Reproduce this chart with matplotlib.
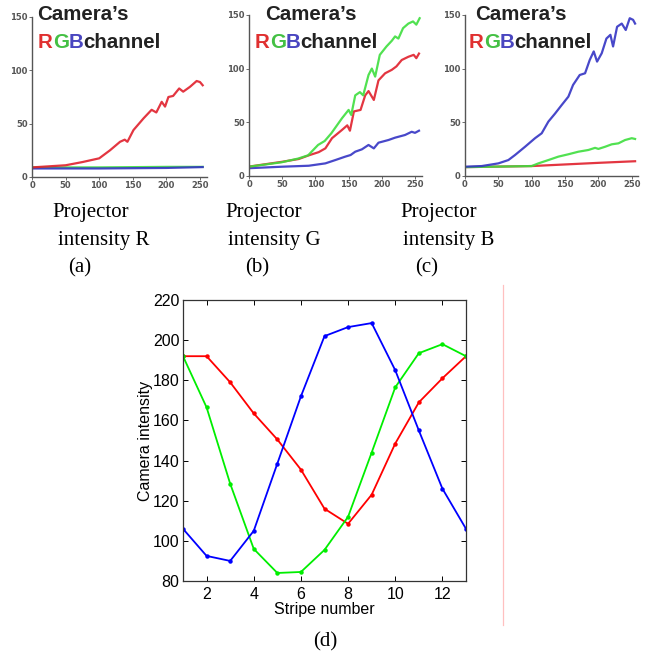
import matplotlib
matplotlib.use("Agg")
import matplotlib.pyplot as plt
from matplotlib.lines import Line2D
from matplotlib.text import Annotation

W, H = 659, 657

# ---------------- Data: top panels (projector intensity vs camera channel) ----------------
# Panel (a): projector R
a_red_x = [0, 50, 75, 100, 116, 131, 138, 142, 151, 166, 178, 185, 193, 198, 203, 210, 219, 225, 235, 245, 250, 254]
a_red_y = [9, 11, 14, 17.5, 25, 33, 35, 33, 44, 55, 63, 60.5, 70.5, 66, 75, 76, 83, 80, 84.5, 90, 89, 86]
a_green_x = [0, 100, 200, 254]
a_green_y = [9, 9, 9.5, 9.5]
a_blue_x = [0, 100, 200, 254]
a_blue_y = [8, 8, 8.5, 9.3]

# Panel (b): projector G
b_green_x = [0, 49, 74, 89, 104, 114, 124, 140, 150, 154, 160, 167, 172, 180, 185, 190, 197, 207, 215, 220, 225, 232, 240, 247, 252, 257]
b_green_y = [8.4, 12.5, 16, 19, 28.7, 32.4, 39.6, 53.6, 61.4, 56.7, 75, 78, 75, 94, 100, 92.5, 112.8, 120.6, 125.9, 130, 128, 137.7, 142, 144, 141, 147]
b_red_x = [0, 50, 75, 90, 105, 115, 125, 140, 148, 152, 158, 168, 175, 180, 188, 195, 205, 215, 222, 230, 240, 248, 252, 256]
b_red_y = [8.5, 13, 15.6, 19, 22, 25.5, 35, 42.7, 47, 42, 60, 61.4, 75, 79, 70.7, 89, 95.6, 98.8, 102, 108, 111, 112.8, 109.7, 114]
b_blue_x = [0, 50, 90, 115, 130, 145, 153, 160, 170, 180, 188, 195, 210, 220, 235, 245, 250, 256]
b_blue_y = [7, 8.4, 9.3, 11.5, 14.6, 17.8, 19.3, 22.4, 24.6, 28.7, 25.5, 30.8, 33.3, 35.5, 38, 41, 40, 42]

# Panel (c): projector B
c_blue_x = [0, 25, 50, 65, 75, 90, 105, 115, 125, 135, 145, 155, 162, 172, 180, 187, 193, 198, 205, 212, 218, 222, 228, 235, 241, 247, 252, 255]
c_blue_y = [8.4, 9, 11.5, 14.6, 19.3, 27, 35, 39.6, 50.5, 58, 66, 73.8, 84.7, 94, 95.6, 108, 116, 106.5, 114.3, 128, 131.5, 120.6, 139, 142, 136, 147, 145.5, 142]
c_green_x = [0, 50, 100, 110, 125, 140, 155, 170, 185, 195, 200, 210, 220, 230, 240, 250, 255]
c_green_y = [8, 8.5, 9, 11.5, 14.6, 17.8, 20, 22.4, 24, 26, 25, 27, 29.3, 30.2, 33.3, 35, 34.3]
c_red_x = [0, 100, 150, 200, 255]
c_red_y = [8, 9, 10.5, 12, 13.5]

top_xticks = [0, 50, 100, 150, 200, 250]
top_yticks = [0, 50, 100, 150]
captions = [("Projector", "intensity R", "(a)"),
            ("Projector", "intensity G", "(b)"),
            ("Projector", "intensity B", "(c)")]

# ---------------- Data: bottom panel (d) ----------------
stripe = [1, 2, 3, 4, 5, 6, 7, 8, 9, 10, 11, 12, 13]
d_red = [192, 192, 179, 163.5, 150.5, 135.5, 116, 108.5, 123, 148.5, 169, 181, 192]
d_green = [192, 166.5, 128.5, 96, 84, 84.5, 95.5, 112, 144, 176.5, 193.5, 198, 192]
d_blue = [106, 92.5, 90, 105, 138.5, 172, 202, 206.5, 208.5, 185, 155, 126, 106]
d_xticks = [2, 4, 6, 8, 10, 12]
d_yticks = [80, 100, 120, 140, 160, 180, 200, 220]


def px(x, y):
    return x / W, 1 - y / H


def rect(l, t, r, b):
    return [l / W, 1 - b / H, (r - l) / W, (b - t) / H]


fig = plt.figure(figsize=(W / 100, H / 100), dpi=100)

TR, TG, TB = "#e0202c", "#3ede3e", "#3434c4"
top_axes_px = [(32, 17, 32 + 260 * 0.672, 177),
               (249, 15, 249 + 260 * 0.664, 175.7),
               (465, 15, 465 + 260 * 0.667, 175.7)]
series = [
    [(a_green_x, a_green_y, TG), (a_blue_x, a_blue_y, TB), (a_red_x, a_red_y, TR)],
    [(b_blue_x, b_blue_y, TB), (b_red_x, b_red_y, TR), (b_green_x, b_green_y, TG)],
    [(c_red_x, c_red_y, TR), (c_green_x, c_green_y, TG), (c_blue_x, c_blue_y, TB)],
]
title_pos = [((37, 15), (38, 43)), ((265, 15), (255, 43)), ((475, 15), (469, 43))]
cap_pos = [((52, 213), (58, 240), (68, 268)),
           ((225, 213), (228, 240), (245, 268)),
           ((400, 213), (403, 240), (415, 268))]
TFONT = dict(fontsize=14.8, fontweight="bold", family="Liberation Sans")

for i in range(3):
    l, t, r, b = top_axes_px[i]
    ax = fig.add_axes(rect(l, t, r, b))
    for xs, ys, c in series[i]:
        ax.plot(xs, ys, color=c, lw=1.6, alpha=0.9)
    ax.set_xlim(0, 260)
    ax.set_ylim(0, 150)
    ax.set_xticks(top_xticks)
    ax.set_yticks(top_yticks)
    ax.tick_params(labelsize=6, colors="#555555", length=2, width=0.6, pad=1)
    for lab in ax.get_xticklabels() + ax.get_yticklabels():
        lab.set_fontweight("bold")
    for s in ("top", "right"):
        ax.spines[s].set_visible(False)
    for s in ("left", "bottom"):
        ax.spines[s].set_color("#555555")
        ax.spines[s].set_linewidth(1.0)
    ax.patch.set_alpha(0)

    (cx, cy), (rx, ry) = title_pos[i]
    fig.text(*px(cx, cy), "Camera\u2019s", color="#222222", ha="left", va="center", **TFONT)
    prev = fig.text(*px(rx, ry), "R", color="#e03030", ha="left", va="center", **TFONT)
    for txt, col in (("G", "#44c044"), ("B", "#4a46c0"), ("channel", "#222222")):
        ann = Annotation(txt, xy=(1, 0), xycoords=prev, ha="left", va="bottom",
                         color=col, **TFONT)
        fig.add_artist(ann)
        prev = ann

    for (xx, yy), txt in zip(cap_pos[i], captions[i]):
        fig.text(*px(xx, yy), txt, fontsize=15, family="Liberation Serif",
                 ha="left", va="center", color="black")

# ---------------- Bottom panel (d) ----------------
axd = fig.add_axes(rect(183, 300, 466, 581))
axd.plot(stripe, d_red, color="#ff0000", lw=1.3, marker="o", ms=2.2)
axd.plot(stripe, d_green, color="#00ee00", lw=1.3, marker="o", ms=2.2)
axd.plot(stripe, d_blue, color="#0000ff", lw=1.3, marker="o", ms=2.2)
axd.set_xlim(1, 13)
axd.set_ylim(80, 220)
axd.set_xticks(d_xticks)
axd.set_yticks(d_yticks)
axd.tick_params(direction="in", top=True, right=True, length=3.5, width=0.7,
                labelsize=11.5, pad=2.5, colors="black")
axd.tick_params(axis="x", pad=4)
for lab in axd.get_xticklabels() + axd.get_yticklabels():
    lab.set_family("Liberation Sans")
for s in axd.spines.values():
    s.set_linewidth(0.9)
    s.set_color("#333333")
axd.set_xlabel("Stripe number", fontsize=11.5, family="Liberation Sans", labelpad=0.5)
axd.set_ylabel("Camera intensity", fontsize=11.5, family="Liberation Sans", labelpad=0)
fig.text(*px(325, 642), "(d)", fontsize=15, family="Liberation Serif",
         ha="center", va="center", color="black")

# faint vertical divider on the right
fig.add_artist(Line2D([502.5 / W, 502.5 / W], [1 - 285 / H, 1 - 625 / H],
                      transform=fig.transFigure, color="#ffc0c0", lw=0.9))

fig.savefig("out.png", dpi=100)
